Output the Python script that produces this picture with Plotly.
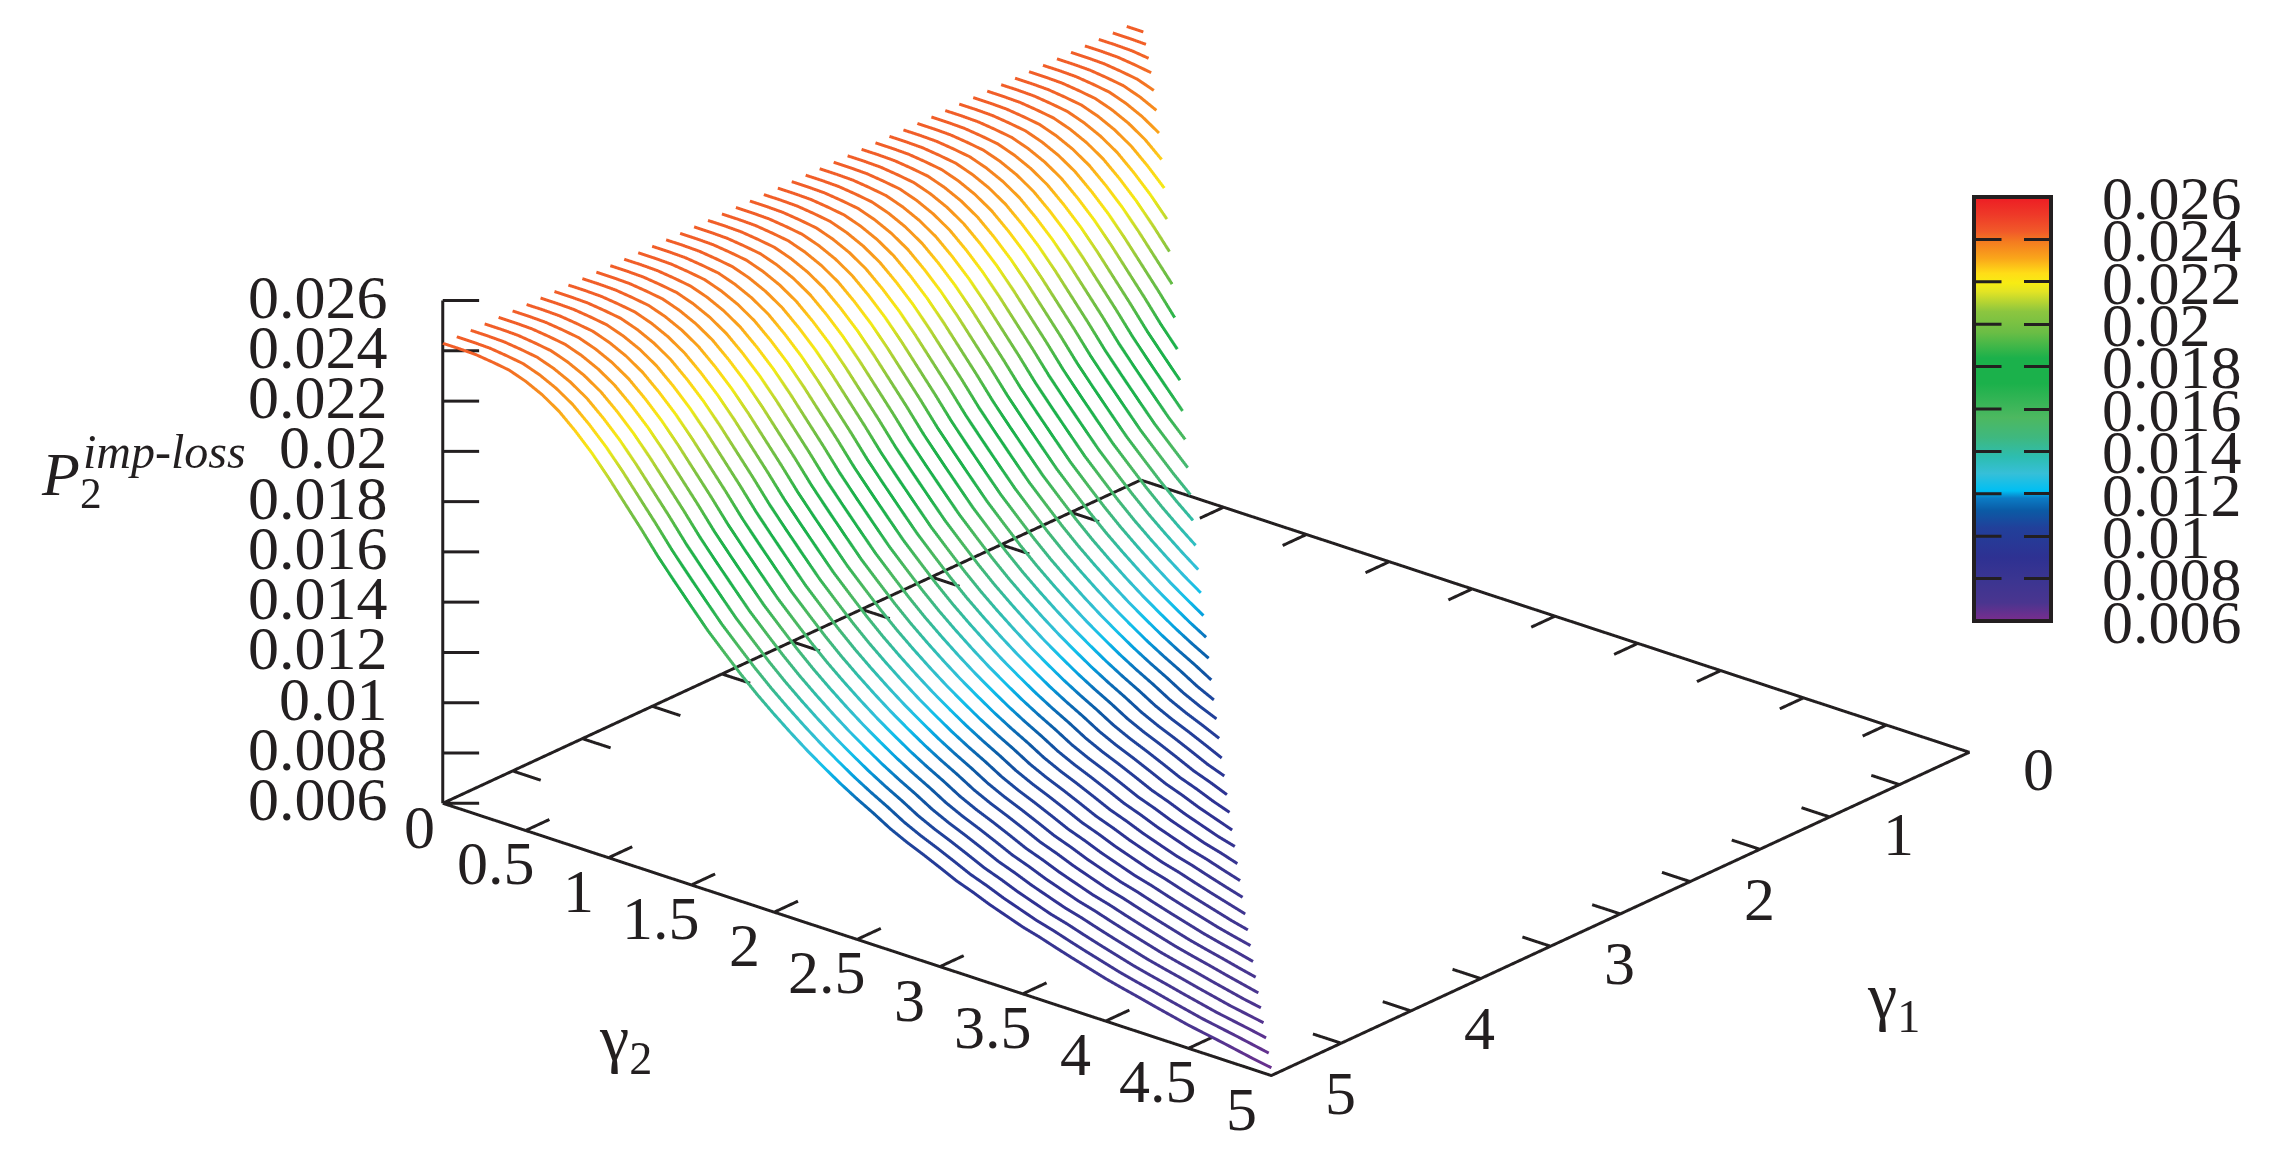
import plotly.graph_objects as go

gamma2_grid = [round(i * 0.1, 1) for i in range(51)]
gamma1_lines = [round(i * 0.1, 1) for i in range(1, 51)]
# P2 (value against gamma2 in steps of 0.1)
p2_profile = [.02430, .02430, .02428, .02420, .02410, .02387, .02355, .02312, .02254, .02188,
              .02112, .02030, .01948, .01862, .01784, .01708, .01633, .01567, .01502, .01442,
              .01387, .01335, .01286, .01241, .01198, .01159, .01123, .01084, .01052, .01024,
              .00994, .00963, .00939, .00912, .00889, .00866, .00848, .00827, .00807, .00788,
              .00769, .00753, .00738, .00722, .00707, .00692, .00680, .00668, .00655, .00642, .00631]

z_ticks = [.006, .008, .01, .012, .014, .016, .018, .02, .022, .024, .026]
z_labels = ["0.006", "0.008", "0.01", "0.012", "0.014", "0.016", "0.018", "0.02", "0.022", "0.024", "0.026"]
gamma2_ticks = [0, .5, 1, 1.5, 2, 2.5, 3, 3.5, 4, 4.5, 5]
gamma2_labels = ["0", "0.5", "1", "1.5", "2", "2.5", "3", "3.5", "4", "4.5", "5"]
gamma1_ticks = [0, .5, 1, 1.5, 2, 2.5, 3, 3.5, 4, 4.5, 5]
gamma1_labels = ["0", "", "1", "", "2", "", "3", "", "4", "", "5"]

zmin, zmax = .006, .026
stops = [(0, "#7B2D8E"), (.043, "#4A358F"), (.10, "#3A3591"), (.15, "#2E3192"), (.22, "#21409A"),
         (.26, "#0B5AA5"), (.29, "#0B7CC5"), (.307, "#00BFF3"), (.348, "#36BFD8"), (.387, "#2DBDB0"),
         (.434, "#3FB87E"), (.48, "#4DB860"), (.56, "#1BB14B"), (.62, "#1BB14B"), (.68, "#6ABD45"),
         (.73, "#8CC63F"), (.777, "#E3E424"), (.797, "#F7EC13"), (.82, "#FFDD17"), (.855, "#FAA61A"),
         (.895, "#F47B20"), (.918, "#F15A29"), (.957, "#EE3A28"), (1, "#ED1C24")]

BLACK = "#231F20"
FONT = "Liberation Serif"
TICK = 0.17
PAD = 1.02  # the scene box is a little larger than the frame, so nothing sits on its clipping planes
fig = go.Figure()

for g1 in gamma1_lines:
    n = sum(1 for g in gamma2_grid if g <= g1)
    fig.add_trace(go.Scatter3d(
        x=gamma2_grid[:n], y=[g1] * n, z=p2_profile[:n], mode="lines",
        line=dict(width=6, color=p2_profile[:n], coloraxis="coloraxis"),
        hoverinfo="skip", showlegend=False))


def black(xs, ys, zs):
    fig.add_trace(go.Scatter3d(x=xs, y=ys, z=zs, mode="lines", line=dict(width=6, color=BLACK),
                               hoverinfo="skip", showlegend=False, connectgaps=False))


# floor frame and the z axis
black([0, 5, 5, 0, 0], [5, 5, 0, 0, 5], [zmin] * 5)
black([0, 0], [5, 5], [zmin, zmax])
xs, ys, zs = [], [], []
for t in gamma2_ticks:
    xs += [t, t, None, t, t, None]
    ys += [5, 5 - TICK, None, 0, TICK, None]
    zs += [zmin, zmin, None, zmin, zmin, None]
for t in gamma1_ticks:
    xs += [5, 5 - TICK, None, 0, TICK, None]
    ys += [t, t, None, t, t, None]
    zs += [zmin, zmin, None, zmin, zmin, None]
for t in z_ticks:
    xs += [0, 0.128, None]
    ys += [5, 5 - 0.108, None]
    zs += [t, t, None]
black(xs, ys, zs)

labels = []
for t, s in zip(z_ticks, z_labels):
    labels.append(dict(x=0, y=5, z=t, text=s, xanchor="right", xshift=-53, yshift=4))
for t, s in zip(gamma2_ticks, gamma2_labels):
    labels.append(dict(x=t, y=5, z=zmin, text=s, xanchor="center",
                       xshift=-23 if t == 0 else -30, yshift=-24 if t == 0 else -33))
for t, s in zip(gamma1_ticks, gamma1_labels):
    if s:
        labels.append(dict(x=5, y=t, z=zmin, text=s, xanchor="center", xshift=69, yshift=-17))
for a in labels:
    a.update(showarrow=False, yanchor="middle", font=dict(family=FONT, size=62, color=BLACK))

axis = dict(showbackground=False, showgrid=False, zeroline=False, showspikes=False, showline=False,
            ticks="", showticklabels=False, title=dict(text=""))

dir_ = (0.593, -0.704, 0.39)
R = 4.0
c = (0.1010, -0.2808, -0.0034)
ASPECT = 1.855 * PAD
xpad = 2.5 * (PAD - 1)
zmid, zhalf = (zmin + zmax) / 2, (zmax - zmin) / 2 * PAD


def paper(text, px, py, size, **kw):
    return dict(text=text, x=px / 2275, y=1 - py / 1168, xref="paper", yref="paper", showarrow=False,
                xanchor="center", yanchor="middle", font=dict(family=FONT, size=size, color=BLACK), **kw)


CB_LEFT, CB_WIDTH, CB_TOP, CB_BOTTOM = 1966, 77, 189, 613
cb_ticks = [dict(text="", x=CB_LEFT / 2275,
                 y=1 - (CB_BOTTOM - (t - zmin) / (zmax - zmin) * (CB_BOTTOM - CB_TOP)) / 1168,
                 xref="paper", yref="paper", showarrow=True, arrowhead=0, arrowwidth=3,
                 arrowcolor=BLACK, ax=29, ay=0, standoff=0) for t in z_ticks[1:-1]]

fig.update_layout(
    width=2275, height=1168, margin=dict(l=0, r=0, t=0, b=0),
    paper_bgcolor="white", showlegend=False,
    coloraxis=dict(cmin=zmin, cmax=zmax, colorscale=stops,
                   colorbar=dict(x=CB_LEFT / 2275, xanchor="left", y=1 - CB_BOTTOM / 1168, yanchor="bottom",
                                 lenmode="pixels", len=CB_BOTTOM - CB_TOP, thickness=CB_WIDTH, thicknessmode="pixels",
                                 outlinecolor=BLACK, outlinewidth=4, ticks="inside", ticklen=29,
                                 tickwidth=3, tickcolor=BLACK, tickvals=z_ticks,
                                 ticktext=["\u2002\u200a" + s for s in z_labels],
                                 tickfont=dict(family=FONT, size=62, color=BLACK), xpad=0, ypad=0)),
    scene=dict(
        domain=dict(x=[0, 1], y=[0, 1]),
        aspectmode="manual", aspectratio=dict(x=ASPECT, y=ASPECT, z=ASPECT / 2 * 1.008),
        xaxis=dict(axis, range=[-xpad, 5 + xpad]),
        yaxis=dict(axis, range=[5 + xpad, -xpad]),
        zaxis=dict(axis, range=[zmid - zhalf, zmid + zhalf]),
        annotations=labels,
        camera=dict(projection=dict(type="orthographic"),
                    eye=dict(x=c[0] + dir_[0] * R, y=c[1] + dir_[1] * R, z=c[2] + dir_[2] * R),
                    center=dict(x=c[0], y=c[1], z=c[2]), up=dict(x=0, y=0, z=1))),
    annotations=[
        paper("<i>P</i><sub>2</sub>", 63, 470, 62),
        paper("<i>imp-loss</i>", 156, 443, 48),
        paper("γ<sub>2</sub>", 617, 1034, 66),
        paper("γ<sub>1</sub>", 1885, 992, 66),
    ] + cb_ticks,
)
fig.write_html("out.html")
